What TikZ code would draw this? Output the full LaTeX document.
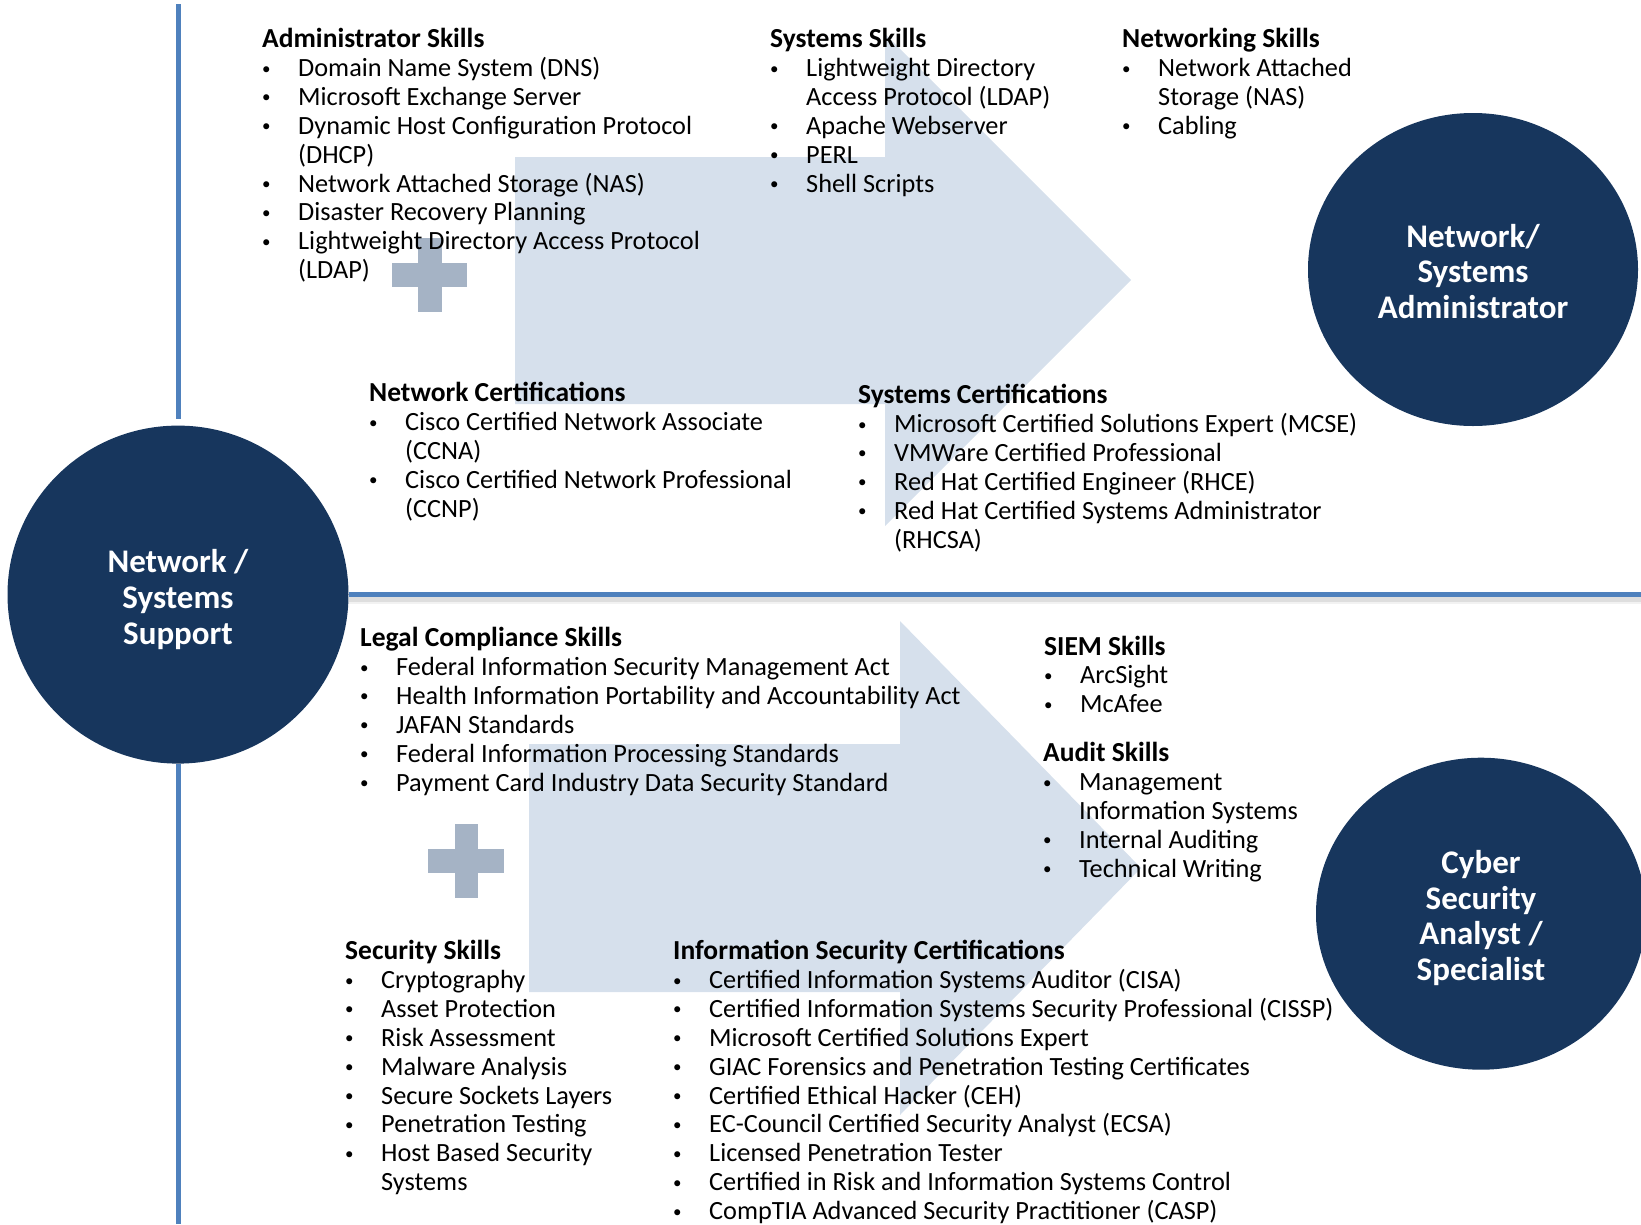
\documentclass[tikz,border=0pt]{standalone}
\usepackage{fontspec}
\setmainfont{Carlito}
\usetikzlibrary{shapes.geometric}
\definecolor{navy}{RGB}{23,54,93}
\definecolor{lineblue}{RGB}{79,129,189}
\definecolor{arrowfill}{RGB}{214,224,236}
\definecolor{plusfill}{RGB}{165,179,197}
\newcommand\hd[1]{\hbox{\fontsize{27.5}{28.9}\selectfont\bfseries #1}}
\newcommand\bul{\raisebox{2.4pt}{\fontsize{17}{17}\selectfont\textbullet}}
\newcommand\itm[1]{\hbox{\makebox[36pt][l]{\bul}#1}}
\newcommand\cnt[1]{\hbox{\hspace*{36pt}#1}}
\begin{document}
\begin{tikzpicture}[x=1pt,y=-1pt,
  txt/.style={inner sep=0pt, anchor=base west, font=\fontsize{26.3}{28.9}\selectfont},
  circ/.style={ellipse, fill=navy, inner sep=0pt},
  circtxt/.style={text=white, inner sep=0pt, align=center, font=\bfseries\fontsize{33}{35.6}\selectfont},
  conn/.style={draw=lineblue, line width=5pt},
  arrowshape/.style={fill=arrowfill},
  plusshape/.style={fill=plusfill}]
\useasboundingbox (0,0) rectangle (1641,1224);
% big arrows
\fill[arrowshape] (515,157) -- (885,157) -- (885,34) -- (1131,280) -- (885,526) -- (885,404) -- (515,404) -- cycle;
\fill[arrowshape] (529,744) -- (900,744) -- (900,621) -- (1141,868) -- (900,1115) -- (900,992) -- (529,992) -- cycle;
% plus signs
\fill[plusshape] (392,263) rectangle (467,287);
\fill[plusshape] (418,238) rectangle (442,312);
\fill[plusshape] (428,849) rectangle (504,873);
\fill[plusshape] (454.5,824) rectangle (477.5,898);
% circles
\node[circ, minimum width=341pt, minimum height=338pt] (ns) at (178,594.6) {};
\node[circ, minimum width=330pt, minimum height=313pt] (na) at (1473,269.5) {};
\node[circ, minimum width=330pt, minimum height=312pt] (cs) at (1481,913.7) {};
\node[circtxt] (nsl) at (178,599.5) {Network /\\Systems\\Support};
\node[circtxt] (nal) at (1473,271.5) {Network/\\Systems\\Administrator};
\node[circtxt] (csl) at (1481,918) {Cyber\\Security\\Analyst /\\Specialist};
% lines
\coordinate (vtop) at (178,4);
\coordinate (vbot) at (178,1224);
\coordinate (hend) at (1641,594.6);
\coordinate (sha) at (349,599);
\coordinate (shb) at (1641,599);
\draw[black!50, line width=9pt, opacity=0.10] (sha) -- (shb);
\draw[black!50, line width=5pt, opacity=0.18] (sha) -- (shb);
\draw[conn, shorten >=6pt] (vtop) -- (ns.north);
\draw[conn] (ns.south) -- (vbot);
\draw[conn] (ns.east) -- (hend);
% text blocks
\node[txt] (adm) at (262,47.5) {\vtop{\lineskiplimit=-50pt
 \hd{Administrator Skills}
 \itm{Domain Name System (DNS)}
 \itm{Microsoft Exchange Server}
 \itm{Dynamic Host Configuration Protocol}
 \cnt{(DHCP)}
 \itm{Network Attached Storage (NAS)}
 \itm{Disaster Recovery Planning}
 \itm{Lightweight Directory Access Protocol}
 \cnt{(LDAP)}}};
\node[txt] (sys) at (770,47.5) {\vtop{\lineskiplimit=-50pt
 \hd{Systems Skills}
 \itm{Lightweight Directory}
 \cnt{Access Protocol (LDAP)}
 \itm{Apache Webserver}
 \itm{PERL}
 \itm{Shell Scripts}}};
\node[txt] (net) at (1122,47.5) {\vtop{\lineskiplimit=-50pt
 \hd{Networking Skills}
 \itm{Network Attached}
 \cnt{Storage (NAS)}
 \itm{Cabling}}};
\node[txt] (ncert) at (369,401.5) {\vtop{\lineskiplimit=-50pt
 \hd{Network Certifications}
 \itm{Cisco Certified Network Associate}
 \cnt{(CCNA)}
 \itm{Cisco Certified Network Professional}
 \cnt{(CCNP)}}};
\node[txt] (scert) at (858,403.5) {\vtop{\lineskiplimit=-50pt
 \hd{Systems Certifications}
 \itm{Microsoft Certified Solutions Expert (MCSE)}
 \itm{VMWare Certified Professional}
 \itm{Red Hat Certified Engineer (RHCE)}
 \itm{Red Hat Certified Systems Administrator}
 \cnt{(RHCSA)}}};
\node[txt] (legal) at (360,646.5) {\vtop{\lineskiplimit=-50pt
 \hd{Legal Compliance Skills}
 \itm{Federal Information Security Management Act}
 \itm{Health Information Portability and Accountability Act}
 \itm{JAFAN Standards}
 \itm{Federal Information Processing Standards}
 \itm{Payment Card Industry Data Security Standard}}};
\node[txt] (siem) at (1044,655) {\vtop{\lineskiplimit=-50pt
 \hd{SIEM Skills}
 \itm{ArcSight}
 \itm{McAfee}}};
\node[txt] (audit) at (1043,761.5) {\vtop{\lineskiplimit=-50pt
 \hd{Audit Skills}
 \itm{Management}
 \cnt{Information Systems}
 \itm{Internal Auditing}
 \itm{Technical Writing}}};
\node[txt] (sec) at (345,959.5) {\vtop{\lineskiplimit=-50pt
 \hd{Security Skills}
 \itm{Cryptography}
 \itm{Asset Protection}
 \itm{Risk Assessment}
 \itm{Malware Analysis}
 \itm{Secure Sockets Layers}
 \itm{Penetration Testing}
 \itm{Host Based Security}
 \cnt{Systems}}};
\node[txt] (iscert) at (673,959.5) {\vtop{\lineskiplimit=-50pt
 \hd{Information Security Certifications}
 \itm{Certified Information Systems Auditor (CISA)}
 \itm{Certified Information Systems Security Professional (CISSP)}
 \itm{Microsoft Certified Solutions Expert}
 \itm{GIAC Forensics and Penetration Testing Certificates}
 \itm{Certified Ethical Hacker (CEH)}
 \itm{EC-Council Certified Security Analyst (ECSA)}
 \itm{Licensed Penetration Tester}
 \itm{Certified in Risk and Information Systems Control}
 \itm{CompTIA Advanced Security Practitioner (CASP)}}};
\end{tikzpicture}
\end{document}
